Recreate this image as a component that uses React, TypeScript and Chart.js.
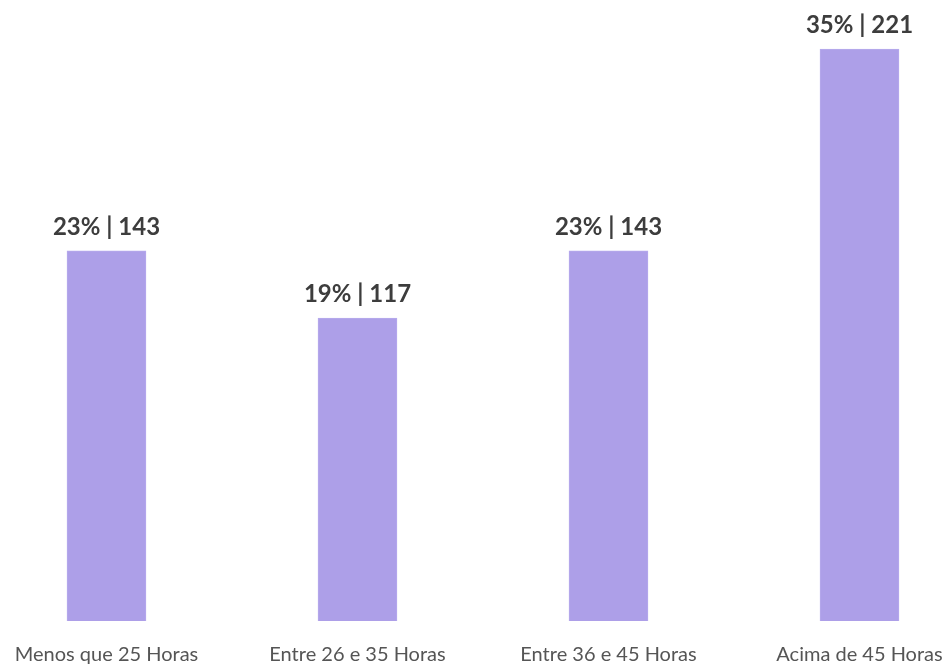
import React, { useEffect, useRef } from "react";
import { Chart, registerables } from "chart.js";

Chart.register(...registerables);

const categories = ["Menos que 25 Horas", "Entre 26 e 35 Horas", "Entre 36 e 45 Horas", "Acima de 45 Horas"];
const counts = [143, 117, 143, 221];
const percents = [23, 19, 23, 35];

const FONT = "Lato, 'Open Sans', sans-serif";

const labelPlugin = {
  id: "barLabels",
  afterDatasetsDraw(chart: any) {
    const ctx = chart.ctx;
    const meta = chart.getDatasetMeta(0);
    ctx.save();
    ctx.font = `bold 24px ${FONT}`;
    ctx.fillStyle = "#3d3d3d";
    ctx.textAlign = "center";
    ctx.textBaseline = "middle";
    meta.data.forEach((bar: any, i: number) => {
      ctx.fillText(`${percents[i]}% | ${counts[i]}`, bar.x, bar.y - 24);
    });
    ctx.restore();
  },
};

export default function App() {
  const ref = useRef<HTMLCanvasElement>(null);
  useEffect(() => {
    document.body.style.margin = "0";
    const chart = new Chart(ref.current!, {
      type: "bar",
      data: {
        labels: categories,
        datasets: [
          {
            data: counts,
            backgroundColor: "#ad9fe8",
            borderColor: "#b7abed",
            borderWidth: 1,
            barThickness: 79,
            clip: false as any,
          },
        ],
      },
      options: {
        animation: false,
        responsive: false,
        layout: { padding: { top: 49, left: 106.5, right: 90.5, bottom: 0 } },
        plugins: { legend: { display: false }, tooltip: { enabled: false } },
        scales: {
          x: {
            offset: false,
            grid: { display: false, drawTicks: false },
            border: { display: false },
            afterFit: (scale: any) => {
              scale.height = 46;
              scale.paddingLeft = 0;
              scale.paddingRight = 0;
            },
            ticks: {
              font: { family: FONT, size: 20 },
              color: "#555555",
              padding: 22,
              maxRotation: 0,
              autoSkip: false,
            },
          },
          y: { display: false, min: 0, max: 221 },
        },
      },
      plugins: [labelPlugin],
    });
    return () => chart.destroy();
  }, []);
  return (
    <div style={{ width: 950, height: 667 }}>
      <canvas ref={ref} width={950} height={667} style={{ display: "block" }} />
    </div>
  );
}
